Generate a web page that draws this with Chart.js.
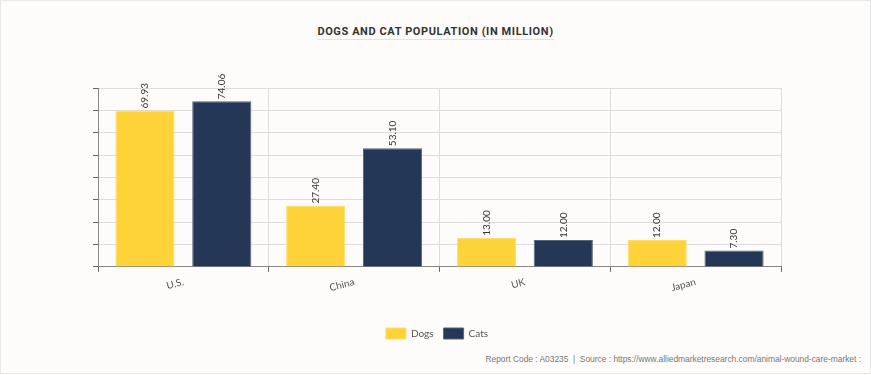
<!DOCTYPE html>
<html>
<head>
  <meta charset="UTF-8" />
  <title>Dogs and Cat Population</title>
  <script src="https://cdn.jsdelivr.net/npm/chart.js@4.4.1/dist/chart.umd.min.js"></script>
  <style>
    body { margin: 0; background: #fdfcfa; }
    #card { position: relative; width: 869px; height: 372px; border: 1px solid #e8e8e8; background: #fdfcfa; }
    #title { position: absolute; top: 20px; left: 0; width: 869px; text-align: center; }
    #title span { display: inline-block; font: bold 11px Roboto, sans-serif; letter-spacing: 0.6px; color: #333;
      padding-bottom: 1px; border-bottom: 1px solid #e2e2e2; }
    #footer { position: absolute; right: 9px; top: 353px; font: 8.4px "Liberation Sans", Arial, sans-serif; color: #777; }
    #wrap { position: absolute; left: 0; top: 0; width: 869px; height: 348px; }
  </style>
</head>
<body>
  <div id="card">
    <div id="title"><span>DOGS AND CAT POPULATION (IN MILLION)</span></div>
    <div id="wrap"><canvas id="chart"></canvas></div>
    <div id="footer">Report Code : A03235 &nbsp;|&nbsp; Source : https://www.alliedmarketresearch.com/animal-wound-care-market :</div>
  </div>
  <script>
    const countries = ['U.S.', 'China', 'UK', 'Japan'];
    const dogs = [69.93, 27.40, 13.00, 12.00];
    const cats = [74.06, 53.10, 12.00, 7.30];

    // rotated value labels on top of each bar
    const barLabels = {
      id: 'barLabels',
      afterDatasetsDraw(chart) {
        const ctx = chart.ctx;
        ctx.save();
        ctx.font = '10px Lato, sans-serif';
        ctx.fillStyle = '#333';
        ctx.textAlign = 'left';
        ctx.textBaseline = 'middle';
        chart.data.datasets.forEach((ds, i) => {
          chart.getDatasetMeta(i).data.forEach((bar, j) => {
            ctx.save();
            ctx.translate(bar.x, bar.y - 2);
            ctx.rotate(-Math.PI / 2);
            ctx.fillText(ds.data[j].toFixed(2), 0, 0);
            ctx.restore();
          });
        });
        ctx.restore();
      }
    };

    const ctx = document.getElementById('chart').getContext('2d');
    new Chart(ctx, {
      type: 'bar',
      data: {
        labels: countries,
        datasets: [
          { label: 'Dogs', data: dogs, backgroundColor: '#fed33a', borderColor: '#fedd6a', borderWidth: 1 },
          { label: 'Cats', data: cats, backgroundColor: '#243757', borderColor: '#56647c', borderWidth: 1 }
        ]
      },
      options: {
        responsive: true,
        maintainAspectRatio: false,
        animation: false,
        categoryPercentage: 0.9,
        barPercentage: 0.77,
        layout: { padding: { left: 92, right: 89, top: 87, bottom: 0 } },
        scales: {
          x: {
            grid: { color: '#dcdcdc', tickColor: '#666', tickLength: 5 },
            border: { color: '#888' },
            ticks: {
              minRotation: 15, maxRotation: 15, color: '#555',
              font: { family: 'Lato', size: 10 }, padding: 4
            },
            afterFit(scale) { scale.height += 20; }
          },
          y: {
            min: 0, max: 80,
            ticks: { stepSize: 10, display: false },
            grid: { color: '#dcdcdc', tickColor: '#666', tickLength: 5 },
            border: { color: '#888' }
          }
        },
        plugins: {
          legend: {
            position: 'bottom',
            labels: {
              boxWidth: 20, boxHeight: 11, color: '#555', padding: 10,
              font: { family: 'Lato', size: 10 }
            }
          },
          tooltip: { enabled: false }
        }
      },
      plugins: [barLabels]
    });
  </script>
</body>
</html>
